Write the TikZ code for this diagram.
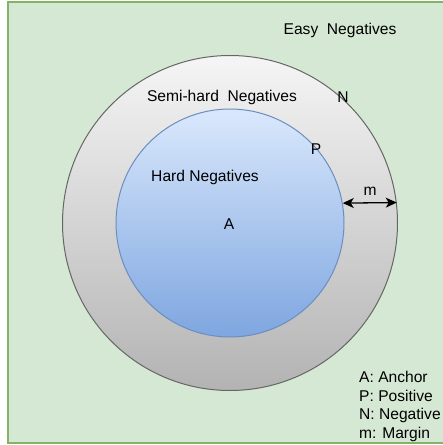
\documentclass[tikz,border=0pt]{standalone}
\usepackage{fontspec}
\setmainfont{Liberation Sans}
\usetikzlibrary{positioning,arrows.meta}
\definecolor{bgfill}{HTML}{D5E8D4}
\definecolor{bgline}{HTML}{82B366}
\definecolor{ringtop}{HTML}{F5F5F5}
\definecolor{ringbot}{HTML}{B3B3B3}
\definecolor{ringline}{HTML}{666666}
\definecolor{coretop}{HTML}{DAE8FC}
\definecolor{corebot}{HTML}{7EA6E0}
\definecolor{coreline}{HTML}{6C8EBF}

\begin{document}
\begin{tikzpicture}[
  x=1pt,y=-1pt,
  font=\fontsize{15.6}{18.7}\selectfont,
  txt/.style={inner sep=0pt},
  ring/.style={circle,draw=ringline,line width=1pt,top color=ringtop,
               bottom color=ringbot,minimum size=335pt,inner sep=0pt},
  core/.style={circle,draw=coreline,line width=1pt,top color=coretop,
               bottom color=corebot,minimum size=228pt,inner sep=0pt},
  gap/.style={{Stealth[length=11pt,width=10pt,inset=3pt]}-{Stealth[length=11pt,width=10pt,inset=3pt]},
              line width=1.3pt,black},
]
\useasboundingbox (0,0) rectangle (443,445);
% background
\draw[fill=bgfill,draw=bgline,line width=1.2pt] (8,2) rectangle (470,443);

% the two regions
\node[ring] (outer) at (230,223) {};
\node[core] (inner) at (230,223) {};

% region names
\node[txt] (easy) at (340,30)  {Easy\ \ Negatives};
\node[txt] (semi) at (222,97)  {Semi-hard\ \ Negatives};
\node[txt] (hard) at (205,177) {Hard Negatives};

% points
\node[txt] (a) at (229,224) {A};
\node[txt] (p) at (316,149) {P};
\node[txt] (n) at (343,97)  {N};

% margin
\draw[gap] (inner.10) -- (outer.7);
\node[txt] (m) at (370,191) {m};

% legend
\node[txt,anchor=north west,align=left] (key) at (359,371)
  {A: Anchor\\P: Positive\\N: Negative\\m: Margin};
\end{tikzpicture}
\end{document}
